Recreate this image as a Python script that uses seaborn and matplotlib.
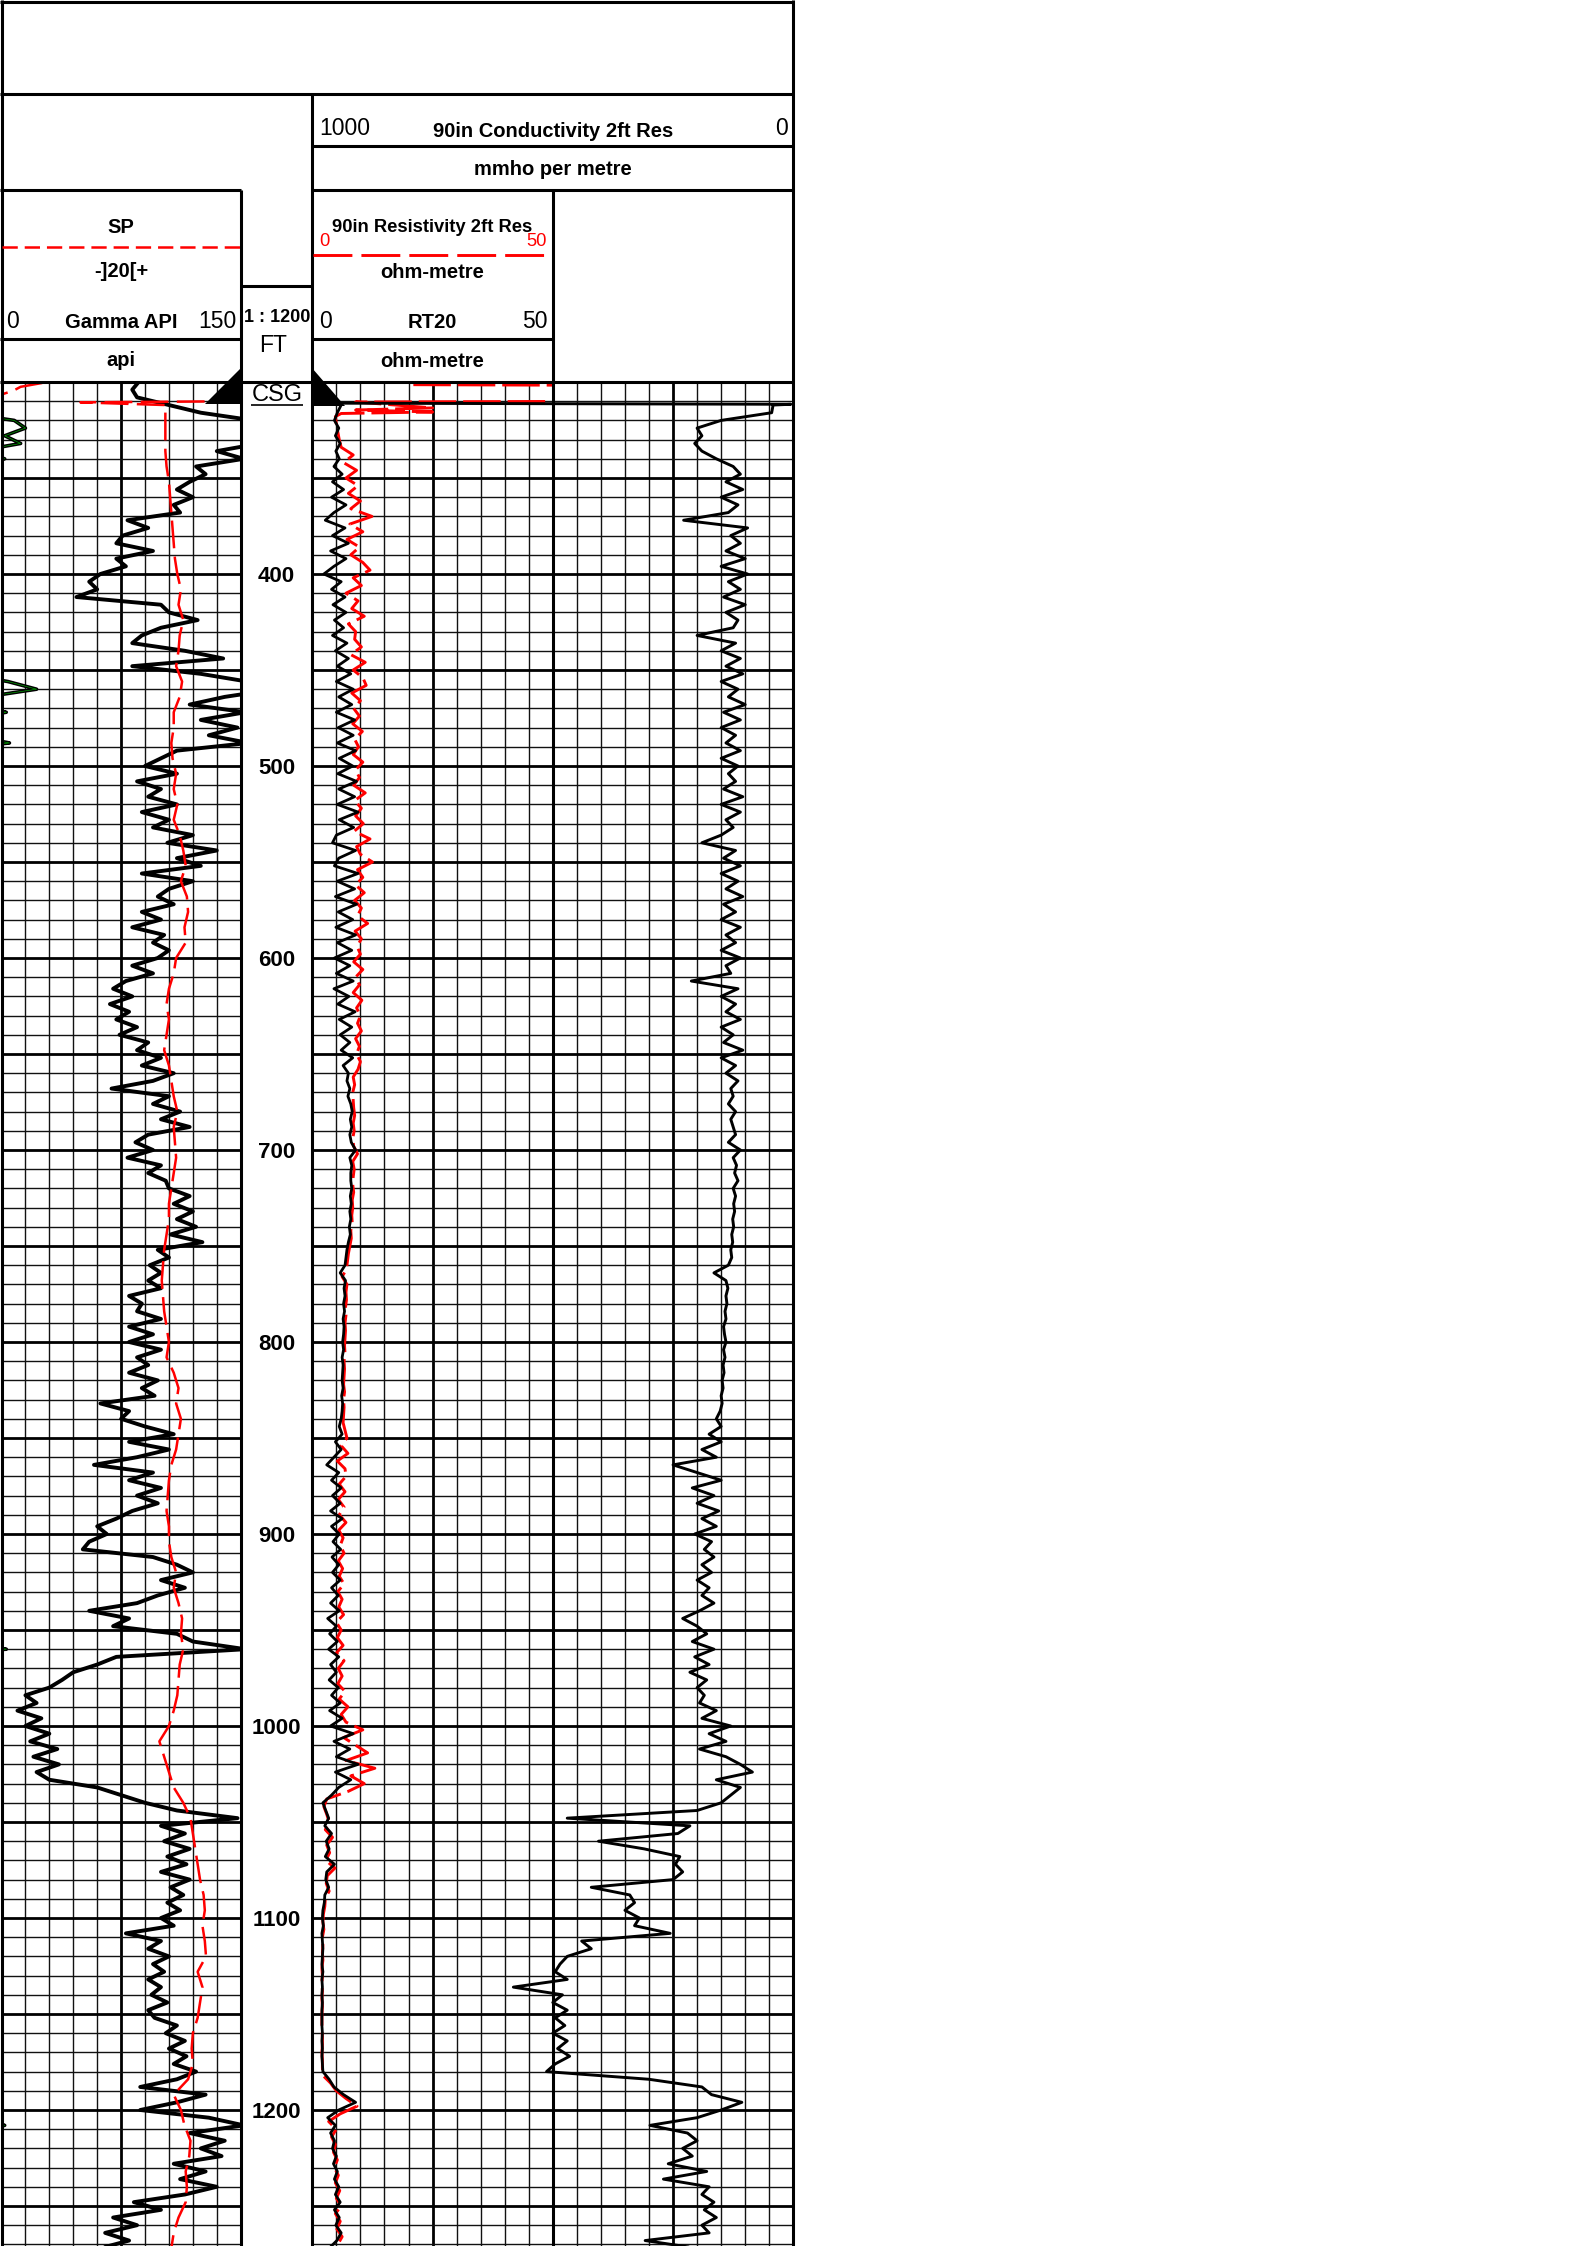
import numpy as np
import pandas as pd
import matplotlib
matplotlib.use("Agg")
import matplotlib.pyplot as plt
from matplotlib.patches import Polygon
from matplotlib.ticker import FixedLocator
import seaborn as sns

sns.set_theme(style="white")
plt.rcParams["font.family"] = ["Liberation Sans", "DejaVu Sans"]
plt.rcParams["lines.scale_dashes"] = False

# ---------------------------------------------------------------------------
# Log curves (depth in ft)
# ---------------------------------------------------------------------------
# Gamma ray, API, every 4 ft from 300 ft
GR_START_FT = 300
GR_API = [
    86, 82,
    85, 105, 125, 158, 165, 152, 162, 135, 152, 122,
    128, 118, 110, 120, 108, 112, 79, 92, 76, 72,
    95, 72, 78, 62, 55, 60, 47, 100, 105, 123,
    100, 88, 82, 115, 139, 82, 125, 154, 172, 140,
    118, 153, 125, 148, 130, 155, 110, 100, 90, 110,
    85, 100, 92, 110, 88, 105, 95, 120, 104, 135,
    110, 125, 88, 120, 105, 98, 108, 88, 100, 82,
    102, 95, 105, 98, 82, 95, 78, 70, 82, 68,
    80, 72, 85, 74, 92, 85, 100, 88, 108, 95,
    69, 105, 95, 112, 100, 118, 92, 84, 95, 79,
    100, 92, 103, 105, 118, 108, 120, 110, 122, 106,
    126, 98, 105, 93, 100, 92, 100, 80, 88, 85,
    100, 80, 95, 80, 100, 85, 92, 80, 98, 88,
    96, 62, 80, 75, 90, 108, 80, 105, 85, 58,
    95, 80, 100, 85, 98, 82, 72, 60, 66, 55,
    51, 95, 110, 120, 100, 115, 98, 85, 55, 80,
    70, 110, 120, 153, 72, 60, 45, 38, 30, 15,
    22, 10, 25, 15, 30, 18, 35, 20, 36, 22,
    30, 60, 75, 90, 110, 148, 100, 115, 102, 118,
    104, 116, 100, 118, 106, 114, 104, 112, 100, 108,
    78, 100, 92, 105, 95, 102, 92, 100, 94, 104,
    92, 96, 110, 103, 115, 105, 116, 108, 122, 110,
    87, 128, 110, 87, 130, 152, 118, 140, 125, 138,
    108, 128, 112, 135, 115, 83, 100, 70, 85, 65,
    80, 62,
]

# Spontaneous potential, mV (20 mV per division)
SP_UPPER_FT = [300.5, 302.5, 304.5, 306.5]
SP_UPPER_MV = [-116, -134, -140, -150]
SP_SHOE_FT = [310.0, 310.6]
SP_SHOE_MV = [50, -84]
SP_START_FT = 312
SP_MV = [
    -13, -13, -13, -13, -12, -10, -9, -8, -7, -6,
    -5, -3, 0, -2, 2, -1, -2, -4, 1, -1,
    -6, -6, -8, -7, -4, -6, -3, -6, -1, 2,
    4, 0, 5, 6, 3, 4, -4, -6, -10, -12,
    -10, -12, -14, -10, -8, -6, -3, -6, -5, -4,
    -6, -8, -10, -10, -12, -14, -15, -16, -15, -14,
    -12, -10, -12, -6, -2, -4, 0, -2, -4, -8,
    -10, -11, -12, -10, -10, -8, -4, -6, -2, 1,
    0, 2, -1, -2, -3, -6, -10, -18, -14, -10,
    -6, 2, 8, 10, 12, 14, 16, 19, 20, 18,
    20, 21, 14, 18, 16, 14, 10, 9, 10, 6,
    -6, 0, 3, 8, 7, 4, 5, 4, -2, -6,
    -8,
]

# RT20, ohm-m, every 4 ft from 312 ft
RT20_START_FT = 312
RT20_OHMM = [
    6.0,
    5.2, 4.6, 5.5, 4.8, 5.8, 4.9, 5.6, 4.5, 6.2, 4.2,
    6.5, 4.0, 7.0, 4.5, 2.7, 6.8, 4.2, 7.5, 3.8, 7.0,
    4.5, 2.4, 6.0, 4.0, 6.8, 4.3, 7.0, 4.6, 6.5, 4.2,
    7.2, 4.8, 7.5, 5.2, 8.0, 5.0, 8.5, 5.5, 8.2, 5.0,
    8.8, 5.4, 8.5, 5.2, 9.0, 5.6, 8.4, 5.3, 9.2, 5.5,
    8.8, 5.2, 9.5, 5.6, 8.6, 5.0, 4.2, 9.0, 5.5, 4.6,
    9.5, 5.2, 8.8, 4.8, 9.2, 5.4, 8.4, 4.9, 9.0, 5.2,
    8.2, 4.6, 7.8, 5.0, 8.5, 4.5, 7.6, 5.3, 8.9, 5.6,
    8.2, 5.8, 7.8, 6.0, 8.4, 6.4, 7.5, 7.2, 7.8, 7.4,
    8.0, 8.3, 7.9, 8.2, 7.8, 8.1, 9.0, 7.8, 8.2, 8.0,
    8.0, 8.2, 7.9, 8.1, 7.8, 8.0, 7.7, 7.9, 7.5, 7.2,
    7.0, 6.8, 5.8, 6.9, 6.6, 6.8, 6.5, 6.7, 6.4, 6.6,
    6.5, 6.3, 6.5, 6.2, 6.4, 6.3, 6.2, 6.4, 6.1, 6.3,
    6.2, 6.0, 5.6, 6.2, 4.8, 6.0, 4.5, 3.0, 5.5, 4.0,
    6.0, 4.2, 5.8, 3.8, 6.2, 4.0, 5.6, 4.3, 5.9, 4.1,
    5.5, 4.2, 5.8, 4.0, 5.4, 3.8, 5.6, 3.2, 5.0, 3.6,
    5.2, 3.4, 5.5, 3.8, 5.0, 3.5, 5.4, 4.0, 5.8, 3.6,
    6.2, 3.8, 8.5, 4.5, 7.8, 5.0, 9.5, 4.8, 8.0, 5.5,
    4.0, 2.2, 2.8, 3.4, 2.6, 4.0, 2.9, 3.5, 2.7, 4.6,
    3.0, 2.8, 3.4, 2.6, 2.5, 2.2, 2.1, 2.3, 2.0, 2.1,
    2.2, 2.1, 2.0, 2.2, 2.0, 2.1, 2.0, 2.1, 2.0, 2.0,
    2.0, 2.1, 2.0, 2.1, 2.0, 2.1, 2.2, 3.5, 4.5, 6.5,
    9.0, 5.5, 3.2, 4.8, 3.8, 4.6, 4.2, 5.0, 4.4, 5.2,
    4.6, 5.5, 4.8, 5.8, 4.6, 5.6, 4.9, 6.0, 5.1, 3.5,
]

# 90in resistivity 2ft res, ohm-m
RES90_SHOE_FT = [301.4, 301.8, 310.0, 310.4, 313.5, 314.6, 315.6, 316.4]
RES90_SHOE_OHMM = [21, 70, 70, 9, 25, 9, 25, 6]
RES90_START_FT = 318
RES90_OHMM = [
    4.8, 5.0, 5.3, 5.6, 6.0, 8.5, 6.5, 9.2, 7.0, 9.5,
    7.5, 10.0, 8.0, 12.4, 7.8, 10.5, 7.2, 9.8, 8.0, 10.5,
    12.0, 8.5, 10.2, 7.0, 9.5, 8.2, 10.8, 7.5, 9.0, 8.8,
    10.2, 8.0, 11.0, 8.5, 10.5, 11.2, 8.2, 10.0, 8.6, 9.8,
    8.4, 10.4, 8.8, 9.6, 8.5, 10.5, 9.0, 9.8, 8.6, 11.0,
    8.8, 10.2, 9.0, 10.6, 8.7, 12.0, 9.2, 10.0, 12.5, 9.4,
    10.5, 9.0, 10.8, 8.8, 10.2, 9.4, 11.5, 8.9, 10.2, 9.3,
    10.0, 8.6, 10.5, 9.0, 9.8, 8.5, 10.3, 9.2, 10.0, 9.4,
    10.2, 9.0, 9.8, 9.2, 10.0, 9.5, 8.5, 8.8, 8.4, 8.5,
    8.6, 8.8, 8.5, 8.7, 8.4, 8.6, 9.4, 8.4, 8.7, 8.5,
    8.4, 8.6, 8.3, 8.4, 8.2, 8.3, 8.0, 8.1, 7.8, 7.5,
    7.3, 7.1, 6.2, 7.2, 7.0, 7.1, 6.9, 7.0, 6.8, 6.9,
    6.8, 6.7, 6.8, 6.6, 6.7, 6.6, 6.5, 6.7, 6.5, 6.6,
    6.5, 6.4, 6.8, 7.2, 6.0, 7.4, 5.2, 6.8, 7.0, 5.6,
    6.8, 5.4, 6.6, 5.6, 7.0, 5.5, 6.4, 5.8, 6.6, 5.4,
    6.3, 5.6, 6.6, 5.3, 6.2, 5.5, 6.5, 5.0, 6.0, 5.2,
    6.4, 5.0, 6.6, 5.4, 6.2, 5.3, 6.8, 5.6, 7.4, 6.0,
    7.0, 10.5, 6.5, 9.0, 11.5, 7.0, 13.0, 8.0, 10.8, 7.5,
    3.0, 2.4, 3.0, 3.5, 2.7, 4.2, 3.0, 3.6, 2.8, 4.7,
    3.1, 2.9, 3.5, 2.7, 2.6, 2.3, 2.2, 2.4, 2.1, 2.2,
    2.1, 2.2, 2.0, 2.1, 2.0, 2.1, 2.0, 2.1, 2.0, 2.0,
    2.0, 2.1, 2.1, 2.0, 2.1, 2.1, 2.2, 3.8, 5.0, 7.0,
    9.3, 5.8, 3.4, 5.0, 4.0, 4.8, 4.4, 5.2, 4.6, 5.4,
    4.8, 5.7, 5.0, 6.0, 4.8, 5.8, 5.1, 6.2, 5.3,
]

# 90in conductivity 2ft res, mmho/m
COND_SHOE_FT = [300.0, 311.0, 311.6]
COND_SHOE_MMHO = [1000, 1000, 5]
COND_START_FT = 312
COND_MMHO = [
    42, 45, 150, 200, 190, 205, 190, 160, 125, 110,
    140, 105, 150, 115, 135, 228, 95, 130, 110, 140,
    100, 150, 95, 135, 110, 145, 100, 140, 115, 125,
    200, 120, 150, 110, 140, 105, 150, 115, 135, 100,
    145, 110, 150, 120, 140, 110, 150, 115, 135, 120,
    145, 105, 150, 110, 140, 125, 150, 190, 120, 145,
    110, 150, 115, 140, 105, 145, 120, 150, 110, 140,
    120, 150, 110, 140, 130, 212, 115, 150, 120, 140,
    110, 150, 125, 145, 105, 150, 120, 140, 115, 130,
    125, 135, 120, 130, 125, 120, 135, 110, 125, 118,
    122, 115, 125, 120, 124, 122, 126, 124, 128, 126,
    130, 128, 135, 165, 140, 136, 140, 138, 142, 140,
    145, 143, 140, 145, 142, 146, 144, 148, 146, 150,
    148, 152, 160, 150, 175, 150, 190, 160, 250, 200,
    150, 210, 165, 200, 155, 190, 160, 205, 170, 185,
    165, 190, 170, 200, 175, 190, 165, 195, 230, 200,
    180, 210, 165, 205, 175, 215, 180, 200, 185, 195,
    160, 190, 130, 175, 140, 195, 140, 110, 85, 160,
    110, 130, 150, 200, 470, 215, 240, 405, 310, 236,
    245, 230, 250, 420, 340, 330, 350, 320, 330, 256,
    440, 420, 470, 485, 495, 470, 582, 480, 500, 470,
    495, 475, 500, 470, 490, 465, 495, 513, 300, 190,
    170, 107, 150, 200, 298, 220, 200, 230, 210, 260,
    180, 270, 175, 190, 165, 185, 160, 190, 175, 308,
    200,
]

DEPTH_LABELS = [400, 500, 600, 700, 800, 900, 1000, 1100, 1200]
CASING_FT = 311

# ---------------------------------------------------------------------------
# Layout (pixels, y downward)
# ---------------------------------------------------------------------------
W, H = 1587, 2246
TOP_FT = 300
PX_PER_FT = 1.92
GRID_TOP = 382
BOT_FT = TOP_FT + (H - GRID_TOP) / PX_PER_FT

X_T1 = (1.5, 240.7)
X_DEPTH = (240.7, 312.3)
X_T2 = (312.3, 552.9)
X_T3 = (552.9, 793.3)

THIN, THICK, BORDER = 1.0, 2.0, 2.2
RED = "#ff0000"

fig = plt.figure(figsize=(W / 100, H / 100), dpi=100)
fig.patch.set_facecolor("white")


def depth_px(ft):
    return GRID_TOP + (ft - TOP_FT) * PX_PER_FT


def px_axes(x0, x1, y0=GRID_TOP, y1=H, zorder=1):
    ax = fig.add_axes([x0 / W, 1 - y1 / H, (x1 - x0) / W, (y1 - y0) / H],
                      zorder=zorder)
    ax.set_ylim(BOT_FT, TOP_FT)
    return ax


def grid_track(x0, x1):
    ax = px_axes(x0, x1)
    ax.set_xlim(0, 10)
    ax.xaxis.set_major_locator(FixedLocator([5]))
    ax.xaxis.set_minor_locator(FixedLocator([1, 2, 3, 4, 6, 7, 8, 9]))
    ax.yaxis.set_major_locator(FixedLocator(list(range(350, 1300, 50))))
    ax.yaxis.set_minor_locator(
        FixedLocator([d for d in range(310, 1280, 10) if d % 50]))
    ax.grid(True, which="major", color="black", linewidth=THICK)
    ax.grid(True, which="minor", color="#111111", linewidth=THIN)
    ax.tick_params(which="both", length=0, labelbottom=False, labelleft=False)
    for s in ax.spines.values():
        s.set_visible(False)
    ax.set_facecolor("white")
    ax.set_ylim(BOT_FT, TOP_FT)
    return ax


def curve_axes(x0, x1, xlim):
    ax = px_axes(x0, x1, zorder=2)
    ax.patch.set_alpha(0)
    ax.set_xlim(*xlim)
    return ax


def draw(ax, depth, values, color, lw, dashes=None):
    frame = pd.DataFrame({"depth": np.asarray(depth, float),
                          "value": np.asarray(values, float)})
    xlim = ax.get_xlim()
    sns.lineplot(data=frame, x="value", y="depth", orient="y", sort=True,
                 estimator=None, ax=ax, color=color, linewidth=lw,
                 legend=False)
    line = ax.lines[-1]
    line.set_linewidth(lw)
    line.set_solid_joinstyle("round")
    line.set_dash_joinstyle("round")
    if dashes is not None:
        line.set_dashes(dashes)
    ax.set_xlim(*xlim)
    ax.set_ylim(BOT_FT, TOP_FT)
    ax.axis("off")


def regular(start, n, step):
    return start + step * np.arange(n)


for xs in (X_T1, X_T2, X_T3):
    grid_track(*xs)

# Track 1: gamma ray (with 150-300 backup wrap) and SP
gr_ft = regular(GR_START_FT, len(GR_API), 4)
ax_gr = curve_axes(*X_T1, (0, 150))
draw(ax_gr, gr_ft, GR_API, "black", 2.8)
ax_wrap = curve_axes(*X_T1, (150, 300))
draw(ax_wrap, gr_ft, GR_API, "black", 2.6)
draw(ax_wrap, gr_ft, GR_API, "#00c000", 0.4)

ax_sp = curve_axes(*X_T1, (-150, 50))
draw(ax_sp, SP_UPPER_FT, SP_UPPER_MV, RED, 1.8, (20, 6))
sp_ft = np.concatenate([SP_SHOE_FT, regular(SP_START_FT, len(SP_MV), 8)])
draw(ax_sp, sp_ft, SP_SHOE_MV + SP_MV, RED, 1.8, (20, 6))

# Track 2: resistivities
ax_res = curve_axes(*X_T2, (0, 50))
res_ft = np.concatenate([RES90_SHOE_FT,
                         regular(RES90_START_FT, len(RES90_OHMM), 4)])
draw(ax_res, res_ft, RES90_SHOE_OHMM + RES90_OHMM, RED, 2.1, (27, 5))
draw(ax_res, regular(RT20_START_FT, len(RT20_OHMM), 4), RT20_OHMM,
     "black", 2.0)

# Tracks 2+3: conductivity (reversed scale)
ax_cond = curve_axes(X_T2[0], X_T3[1], (1000, 0))
cond_ft = np.concatenate([COND_SHOE_FT,
                          regular(COND_START_FT, len(COND_MMHO), 4)])
draw(ax_cond, cond_ft, COND_SHOE_MMHO + COND_MMHO, "black", 2.1)

# Depth track
ax_dep = px_axes(*X_DEPTH, zorder=2)
ax_dep.set_xlim(0, 1)
ax_dep.axis("off")
for d in DEPTH_LABELS:
    ax_dep.text(0.5, d, str(d), ha="center", va="center_baseline",
                fontsize=16, fontweight="bold", color="black")

# ---------------------------------------------------------------------------
# Header boxes, borders and annotations
# ---------------------------------------------------------------------------
hdr = fig.add_axes([0, 0, 1, 1], zorder=3)
hdr.set_xlim(0, W)
hdr.set_ylim(H, 0)
hdr.axis("off")
hdr.patch.set_alpha(0)


def hline(y, x0, x1, lw=BORDER, **kw):
    hdr.plot([x0, x1], [y, y], color=kw.pop("color", "black"), lw=lw,
             solid_capstyle="butt", **kw)


def vline(x, y0, y1, lw=BORDER):
    hdr.plot([x, x], [y0, y1], color="black", lw=lw, solid_capstyle="butt")


RIGHT = X_T3[1]
hline(1.5, 0, RIGHT)
vline(1.5, 0, H)
vline(RIGHT, 0, H)
hline(94, 0, RIGHT)
hline(145.7, X_T2[0], RIGHT)
hline(190, 0, X_T1[1])
hline(190, X_T2[0], RIGHT)
hline(286, X_DEPTH[0], X_DEPTH[1])
hline(339, 0, X_T1[1])
hline(339, X_T2[0], X_T2[1])
hline(GRID_TOP, 0, RIGHT)
vline(X_T1[1], 190, H)
vline(X_T2[0], 94, H)
vline(X_T2[1], 190, H)

hline(247, 2, 240, lw=1.8, color=RED, dashes=(11, 5))
hline(255.3, 313, 546, lw=2.1, color=RED, dashes=(28, 6.5))


def label(x, y, s, ha="center", size=14.5, bold=True, color="black"):
    hdr.text(x, y, s, ha=ha, va="baseline", fontsize=size, color=color,
             fontweight="bold" if bold else "normal")


mid1 = (X_T1[0] + X_T1[1]) / 2
mid2 = (X_T2[0] + X_T2[1]) / 2
mid23 = (X_T2[0] + X_T3[1]) / 2

label(319, 135, "1000", ha="left", size=16.5, bold=False)
label(mid23, 137, "90in Conductivity 2ft Res")
label(788, 135, "0", ha="right", size=16.5, bold=False)
label(mid23, 175, "mmho per metre")

label(mid1, 233, "SP")
label(mid1, 277, "-]20[+")
label(6, 328, "0", ha="left", size=16.5, bold=False)
label(mid1, 328, "Gamma API")
label(236, 328, "150", ha="right", size=16.5, bold=False)
label(mid1, 366, "api")

label(mid2, 231.5, "90in Resistivity 2ft Res", size=13.2)
label(319, 245.5, "0", ha="left", size=13.2, bold=False, color=RED)
label(547, 245.5, "50", ha="right", size=13.2, bold=False, color=RED)
label(mid2, 277.5, "ohm-metre")
label(319, 328, "0", ha="left", size=16.5, bold=False)
label(mid2, 328, "RT20")
label(548, 328, "50", ha="right", size=16.5, bold=False)
label(mid2, 367, "ohm-metre")

label(244, 321.5, "1 : 1200", ha="left", size=13)
label(273, 352.5, "FT", size=16.5, bold=False)

# Casing shoe marker
shoe_y = depth_px(CASING_FT) + 0.5
hdr.add_patch(Polygon([(X_T1[1], 368), (X_T1[1], shoe_y), (205, shoe_y)],
                      closed=True, color="black", lw=0))
hdr.add_patch(Polygon([(X_T2[0], 368), (X_T2[0], shoe_y + 2), (345, shoe_y + 2)],
                      closed=True, color="black", lw=0))
label(277, 401, "CSG", size=17, bold=False)
hline(404.5, 251, 303, lw=1.2)

fig.savefig("out.png", dpi=100, facecolor="white")
